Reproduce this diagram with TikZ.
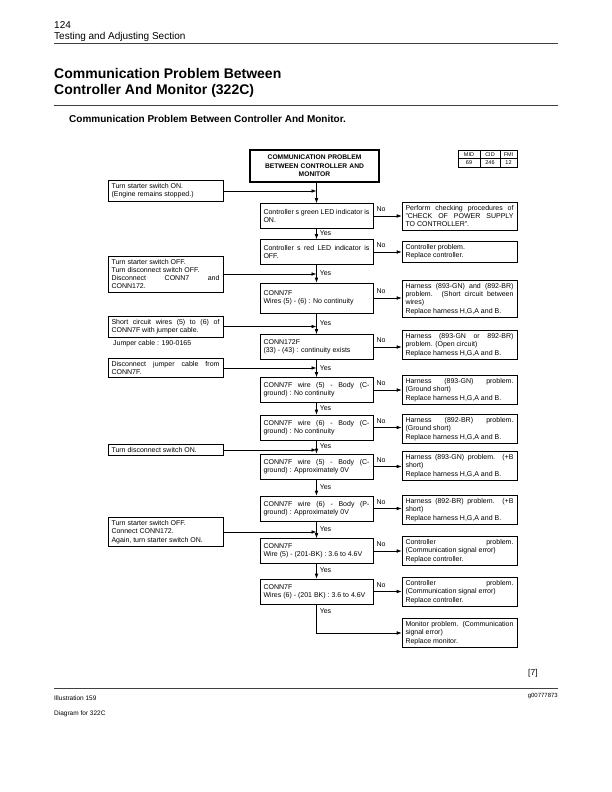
\documentclass[tikz,border=0pt]{standalone}
\usepackage{fontspec}
\setmainfont{Liberation Sans}
\usetikzlibrary{arrows.meta}
\tolerance=10000
\hbadness=10000
\begin{document}
\begin{tikzpicture}[
x=1pt,y=-1pt,
every node/.style={font=\fontsize{7}{8.3}\selectfont},
box/.style={draw,line width=0.6pt,inner xsep=3.5pt,inner ysep=3pt,align=justify},
mainbox/.style={box,text width=106pt,minimum height=25pt},
sidebox/.style={box,text width=108pt},
titlebox/.style={draw,line width=1.4pt,align=center,text width=122pt,inner xsep=3.5pt,minimum height=32pt,font=\fontsize{6.7}{8.5}\selectfont\bfseries},
cell/.style={draw,line width=0.5pt,inner sep=0pt,minimum height=8.5pt,font=\fontsize{5.5}{6}\selectfont},
arr/.style={line width=0.6pt,-{Latex[length=5pt,width=3.6pt]}},
yes/.style={right,pos=0.45,inner sep=1pt,xshift=2pt},
no/.style={above right,pos=0,inner sep=1pt,xshift=2pt,yshift=3pt},
page/.style={anchor=base west,inner sep=0pt},
rule/.style={line width=0.7pt,black!75}
]
\useasboundingbox (0,0) rectangle (612,792);

\node[page,font=\fontsize{10}{12}\selectfont] (pagenum) at (54,28.5) {124};
\node[page,font=\fontsize{10}{12}\selectfont] (section) at (54,40) {Testing and Adjusting Section};
\draw[rule] (54,43) -- (558,43);
\node[page,font=\fontsize{14}{16}\selectfont\bfseries] (head1) at (54,78.5) {Communication Problem Between};
\node[page,font=\fontsize{14}{16}\selectfont\bfseries] (head2) at (54,94) {Controller And Monitor (322C)};
\draw[rule] (54,105) -- (558,105);
\node[page,font=\fontsize{10}{12}\selectfont\bfseries] (subhead) at (69,122) {Communication Problem Between Controller And Monitor.};

\node[cell,minimum width=22pt] (mid) at (469,154.25) {MID};
\node[cell,minimum width=20pt] (cid) at (490,154.25) {CID};
\node[cell,minimum width=17pt] (fmi) at (508.5,154.25) {FMI};
\node[cell,minimum width=22pt] (midval) at (469,162.75) {69};
\node[cell,minimum width=20pt] (cidval) at (490,162.75) {246};
\node[cell,minimum width=17pt] (fmival) at (508.5,162.75) {12};

\node[titlebox] (title) at (314.5,166) {COMMUNICATION PROBLEM\\ BETWEEN CONTROLLER AND\\ MONITOR};

\node[mainbox] (m1) at (316.5,216) {Controller s green LED indicator is\linebreak ON.};
\node[mainbox] (m2) at (316.5,252) {Controller s red LED indicator is\linebreak OFF.};
\node[mainbox,minimum height=30pt] (m3) at (316.5,298) {CONN7F\\ Wires (5) - (6) : No continuity};
\node[mainbox] (m4) at (316.5,347) {CONN172F\\ (33) - (43) : continuity exists};
\node[mainbox] (m5) at (316.5,390) {CONN7F wire (5) - Body (C-\linebreak ground) : No continuity};
\node[mainbox] (m6) at (316.5,427.5) {CONN7F wire (6) - Body (C-\linebreak ground) : No continuity};
\node[mainbox] (m7) at (316.5,466.5) {CONN7F wire (5) - Body (C-\linebreak ground) : Approximately 0V};
\node[mainbox] (m8) at (316.5,508.5) {CONN7F wire (6) - Body (P-\linebreak ground) : Approximately 0V};
\node[mainbox] (m9) at (316.5,551) {CONN7F\\ Wire (5) - (201-BK) : 3.6 to 4.6V};
\node[mainbox] (m10) at (316.5,591.5) {CONN7F\\ Wires (6) - (201 BK) : 3.6 to 4.6V};

\node[sidebox] (r1) at (459.5,216) {Perform checking procedures of\linebreak "CHECK OF POWER SUPPLY\linebreak TO CONTROLLER".};
\node[sidebox] (r2) at (459.5,252) {Controller problem.\\ Replace controller.};
\node[sidebox] (r3) at (459.5,299) {Harness (893-GN) and (892-BR)\linebreak problem. (Short circuit between\linebreak wires)\\ Replace harness H,G,A and B.};
\node[sidebox] (r4) at (459.5,345) {Harness (893-GN or 892-BR)\linebreak problem. (Open circuit)\\ Replace harness H,G,A and B.};
\node[sidebox] (r5) at (459.5,390) {Harness (893-GN) problem.\linebreak (Ground short)\\ Replace harness H,G,A and B.};
\node[sidebox] (r6) at (459.5,429) {Harness (892-BR) problem.\linebreak (Ground short)\\ Replace harness H,G,A and B.};
\node[sidebox] (r7) at (459.5,466) {Harness (893-GN) problem. (+B\linebreak short)\\ Replace harness H,G,A and B.};
\node[sidebox] (r8) at (459.5,510) {Harness (892-BR) problem. (+B\linebreak short)\\ Replace harness H,G,A and B.};
\node[sidebox] (r9) at (459.5,551) {Controller\hfill problem.\\ (Communication signal error)\\ Replace controller.};
\node[sidebox] (r10) at (459.5,592) {Controller\hfill problem.\\ (Communication signal error)\\ Replace controller.};
\node[sidebox] (r11) at (459.5,633) {Monitor problem. (Communication\linebreak signal error)\\ Replace monitor.};

\node[sidebox] (l1) at (165.5,191) {Turn starter switch ON.\\ (Engine remains stopped.)};
\node[sidebox] (l2) at (165.5,274) {Turn starter switch OFF.\\ Turn disconnect switch OFF.\\ Disconnect CONN7 and\linebreak CONN172.};
\node[sidebox] (l3) at (165.5,326.5) {Short circuit wires (5) to (6) of\linebreak CONN7F with jumper cable.};
\node[page] (jumper) at (113,345) {Jumper cable : 190-0165};
\node[sidebox] (l4) at (165.5,368) {Disconnect jumper cable from\linebreak CONN7F.};
\node[sidebox] (l5) at (165.5,450) {Turn disconnect switch ON.};
\node[sidebox] (l6) at (165.5,532) {Turn starter switch OFF.\\ Connect CONN172.\\ Again, turn starter switch ON.};

\draw[arr] (title.south -| m1) -- (m1);
\draw[arr] (m1) -- node[yes]{Yes} (m2);
\draw[arr] (m2) -- node[yes]{Yes} (m3);
\draw[arr] (m3) -- node[yes]{Yes} (m4);
\draw[arr] (m4) -- node[yes]{Yes} (m5);
\draw[arr] (m5) -- node[yes]{Yes} (m6);
\draw[arr] (m6) -- node[yes]{Yes} (m7);
\draw[arr] (m7) -- node[yes]{Yes} (m8);
\draw[arr] (m8) -- node[yes]{Yes} (m9);
\draw[arr] (m9) -- node[yes]{Yes} (m10);
\draw[arr] (m10) |- node[yes,pos=0.12]{Yes} (r11);

\draw[arr] (m1) -- node[no]{No} (m1 -| r1.west);
\draw[arr] (m2) -- node[no]{No} (m2 -| r2.west);
\draw[arr] (m3) -- node[no]{No} (m3 -| r3.west);
\draw[arr] (m4) -- node[no]{No} (m4 -| r4.west);
\draw[arr] (m5) -- node[no]{No} (m5 -| r5.west);
\draw[arr] (m6) -- node[no]{No} (m6 -| r6.west);
\draw[arr] (m7) -- node[no]{No} (m7 -| r7.west);
\draw[arr] (m8) -- node[no]{No} (m8 -| r8.west);
\draw[arr] (m9) -- node[no]{No} (m9 -| r9.west);
\draw[arr] (m10) -- node[no]{No} (m10 -| r10.west);

\draw[arr] (l1) -- (l1 -| m1);
\draw[arr] (l2) -- (l2 -| m1);
\draw[arr] (l3) -- (l3 -| m1);
\draw[arr] (l4) -- (l4 -| m1);
\draw[arr] (l5) -- (l5 -| m1);
\draw[arr] (l6) -- (l6 -| m1);

\node[page,font=\fontsize{8.5}{10}\selectfont] (fignum) at (528,675) {[7]};
\draw[rule] (54,688) -- (558,688);
\node[anchor=base east,inner sep=0pt,font=\fontsize{6}{7}\selectfont] (gnum) at (558,697) {g00777873};
\node[page,font=\fontsize{6.5}{8}\selectfont] (illus) at (54,700) {Illustration 159};
\node[page,font=\fontsize{6.5}{8}\selectfont] (caption) at (54,715) {Diagram for 322C};
\end{tikzpicture}
\end{document}
